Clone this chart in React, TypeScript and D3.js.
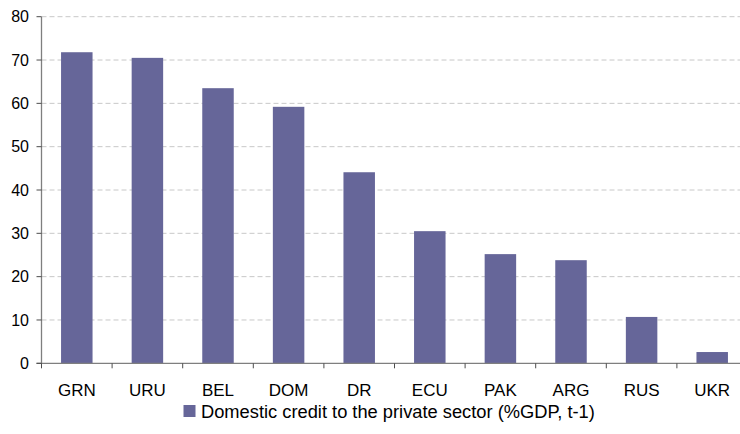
import React from "react";
import * as d3 from "d3";

const categories = ["GRN", "URU", "BEL", "DOM", "DR", "ECU", "PAK", "ARG", "RUS", "UKR"];
const values = [71.8, 70.5, 63.5, 59.2, 44.1, 30.5, 25.2, 23.8, 10.7, 2.6];
const yTicks = [0, 10, 20, 30, 40, 50, 60, 70, 80];
const legendLabel = "Domestic credit to the private sector (%GDP, t-1)";

const W = 740;
const H = 434;
const left = 41.5;
const right = 747.5;
const top = 16.7;
const bottom = 363.3;
const barColor = "#666699";
const font = "'Liberation Sans', Arial, sans-serif";

export default function App() {
  const x = d3.scaleBand<string>().domain(categories).range([left, right]).paddingInner(0.554).paddingOuter(0.277);
  const xb = d3.scaleBand<string>().domain(categories).range([left, right]);
  const y = d3.scaleLinear().domain([0, 80]).range([bottom, top]);
  return (
    <svg width={W} height={H} style={{ position: "absolute", left: 0, top: 0, background: "#fff" }}>
      {yTicks.filter((t) => t > 0).map((t) => (
        <line key={"g" + t} x1={left} x2={W} y1={y(t)} y2={y(t)} stroke="#c8c8c8" strokeWidth={1} strokeDasharray="5,3" />
      ))}
      {categories.map((c, i) => (
        <rect key={c} x={x(c)} y={y(values[i])} width={x.bandwidth()} height={bottom - y(values[i])} fill={barColor} />
      ))}
      <line x1={left} x2={left} y1={top} y2={bottom} stroke="#7f7f7f" strokeWidth={1.3} />
      <line x1={left - 5} x2={W} y1={bottom} y2={bottom} stroke="#7f7f7f" strokeWidth={1.3} />
      {yTicks.map((t) => (
        <g key={"y" + t}>
          <line x1={left - 5} x2={left} y1={y(t)} y2={y(t)} stroke="#4d4d4d" strokeWidth={1} />
          <text x={29} y={y(t)} dy="0.35em" textAnchor="end" fontFamily={font} fontSize={16} fill="#000">
            {t}
          </text>
        </g>
      ))}
      {categories.map((c) => (
        <line key={"t" + c} x1={xb(c)} x2={xb(c)} y1={bottom} y2={bottom + 5} stroke="#4d4d4d" strokeWidth={1} />
      ))}
      {categories.map((c) => (
        <text key={"l" + c} x={(xb(c) as number) + xb.bandwidth() / 2} y={395.5} textAnchor="middle" fontFamily={font} fontSize={17} fill="#000">
          {c}
        </text>
      ))}
      <rect x={183.5} y={405} width={12} height={12} fill={barColor} />
      <text x={201} y={418} fontFamily={font} fontSize={18.3} fill="#000">
        {legendLabel}
      </text>
    </svg>
  );
}
